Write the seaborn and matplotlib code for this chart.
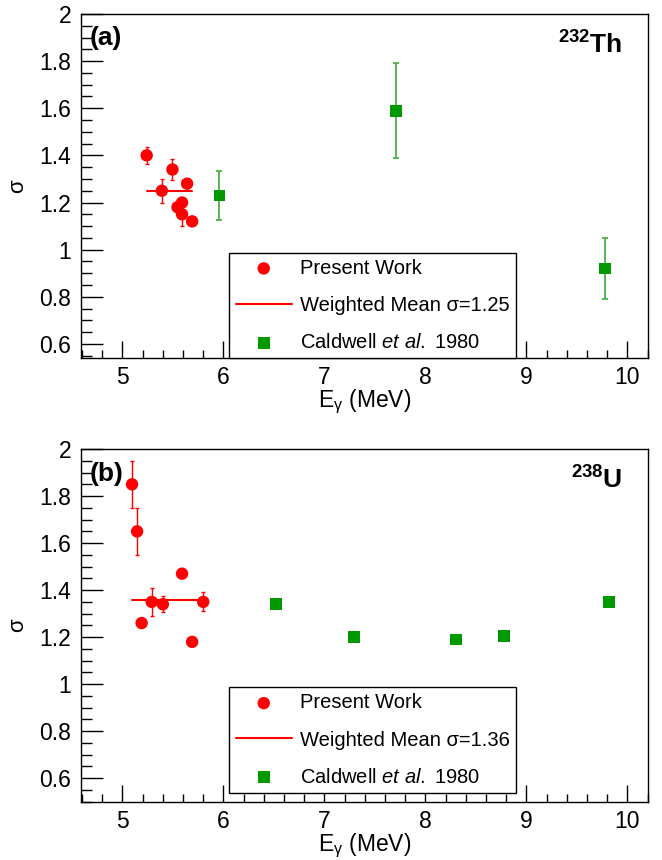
import matplotlib
matplotlib.use("Agg")
import matplotlib.pyplot as plt
from matplotlib.ticker import MultipleLocator, FuncFormatter
import seaborn as sns
import pandas as pd

# (a) 232Th
th_e = [5.24, 5.495, 5.39, 5.64, 5.59, 5.545, 5.59, 5.69]
th_sigma = [1.40, 1.34, 1.25, 1.28, 1.20, 1.18, 1.15, 1.12]
th_err = [0.035, 0.045, 0.05, 0.02, 0.02, 0.02, 0.05, 0.0]
th_cald_e = [5.96, 7.71, 9.78]
th_cald_sigma = [1.23, 1.59, 0.92]
th_cald_err = [0.105, 0.20, 0.13]
th_mean_range = [5.24, 5.69]
th_mean = 1.25

# (b) 238U
u_e = [5.095, 5.145, 5.59, 5.29, 5.40, 5.80, 5.19, 5.69]
u_sigma = [1.85, 1.65, 1.47, 1.35, 1.34, 1.35, 1.26, 1.18]
u_err = [0.10, 0.10, 0.0, 0.06, 0.035, 0.04, 0.0, 0.0]
u_cald_e = [6.52, 7.29, 8.30, 8.775, 9.82]
u_cald_sigma = [1.34, 1.20, 1.19, 1.205, 1.35]
u_mean_range = [5.095, 5.80]
u_mean = 1.36

sns.set_theme(style="white")
plt.rcParams["font.family"] = ["Liberation Sans", "DejaVu Sans"]
plt.rcParams["mathtext.fontset"] = "custom"
plt.rcParams["mathtext.rm"] = "Liberation Sans"
plt.rcParams["mathtext.it"] = "Liberation Sans:italic"
plt.rcParams["mathtext.bf"] = "Liberation Sans:bold"
plt.rcParams["text.color"] = "black"
plt.rcParams["axes.labelcolor"] = "black"

RED = "#ff0000"
GREEN = "#009900"

fig = plt.figure(figsize=(6.62, 8.6), dpi=100)
ax_a = fig.add_axes([0.1224, 0.5837, 0.856, 0.4])
ax_b = fig.add_axes([0.1224, 0.0678, 0.856, 0.410])


def draw_panel(ax, e, s, err, ce, cs, cerr, mrange, mean, ylo, tag, nucl, leg_y, xlab_y):
    df = pd.DataFrame({"E": e, "sigma": s, "err": err})
    cdf = pd.DataFrame({"E": ce, "sigma": cs})
    mdf = pd.DataFrame({"E": mrange, "sigma": [mean, mean]})

    # error bars
    ax.errorbar(df["E"], df["sigma"], yerr=df["err"], fmt="none",
                ecolor=RED, elinewidth=1.0, capsize=1.5, capthick=1.0, zorder=2)
    if cerr is not None:
        ax.errorbar(cdf["E"], cdf["sigma"], yerr=cerr, fmt="none",
                    ecolor="#55b855", elinewidth=1.4, capsize=2, capthick=1.4, zorder=2)

    sns.lineplot(data=mdf, x="E", y="sigma", color=RED, lw=1.5, ax=ax,
                 zorder=3, label="Weighted Mean σ=%.2f" % mean)
    sns.scatterplot(data=df, x="E", y="sigma", color=RED, marker="o", s=80,
                    edgecolor="none", ax=ax, zorder=4, label="Present Work")
    sns.scatterplot(data=cdf, x="E", y="sigma", color=GREEN, marker="s", s=72,
                    edgecolor="none", ax=ax, zorder=4,
                    label="Caldwell $\\mathit{et\\ al.}$ 1980")

    ax.set_xlim(4.59, 10.2)
    ax.set_ylim(ylo, 2.0)
    ax.xaxis.set_major_locator(MultipleLocator(1))
    ax.xaxis.set_minor_locator(MultipleLocator(0.2))
    ax.yaxis.set_major_locator(MultipleLocator(0.2))
    ax.yaxis.set_minor_locator(MultipleLocator(0.05))
    ax.yaxis.set_major_formatter(FuncFormatter(lambda v, p: "%g" % round(v, 2)))
    ax.tick_params(axis="both", which="both", direction="in", top=False, right=False,
                   bottom=True, left=True, colors="black", labelsize=16.5)
    ax.tick_params(axis="y", which="major", length=16, width=1, pad=7)
    ax.tick_params(axis="y", which="minor", length=8, width=1)
    ax.tick_params(axis="x", which="major", length=12, width=1, pad=6)
    ax.tick_params(axis="x", which="minor", length=6, width=1)
    for sp in ax.spines.values():
        sp.set_color("black")
        sp.set_linewidth(1.0)

    ax.set_xlabel("E$_{\\mathrm{γ}}$ (MeV)", fontsize=16.5)
    ax.xaxis.set_label_coords(0.5, xlab_y)
    ax.xaxis.label.set_va("center")
    ax.set_ylabel("σ", fontsize=16, labelpad=8)

    ax.text(0.015, 0.93, tag, transform=ax.transAxes, fontsize=19,
            fontweight="bold", va="center", ha="left")
    ax.text(0.955, 0.95, nucl, transform=ax.transAxes, fontsize=19,
            fontweight="bold", va="top", ha="right")

    handles, labels = ax.get_legend_handles_labels()
    order = [1, 0, 2]
    leg = ax.legend([handles[i] for i in order], [labels[i] for i in order],
                    loc="lower left", bbox_to_anchor=(0.262, leg_y),
                    fontsize=14.5, frameon=True, fancybox=False, framealpha=1,
                    edgecolor="black", borderpad=0.3, labelspacing=0.9,
                    handlelength=2.8, handletextpad=0.4, borderaxespad=0)
    leg.get_frame().set_linewidth(1.0)


draw_panel(ax_a, th_e, th_sigma, th_err, th_cald_e, th_cald_sigma, th_cald_err,
           th_mean_range, th_mean, 0.54, "(a)", "$\\mathbf{^{232}Th}$", 0.0, -0.128)
draw_panel(ax_b, u_e, u_sigma, u_err, u_cald_e, u_cald_sigma, None,
           u_mean_range, u_mean, 0.50, "(b)", "$\\mathbf{^{238}U}$", 0.0255, -0.125)

fig.savefig("out.png", dpi=100)
